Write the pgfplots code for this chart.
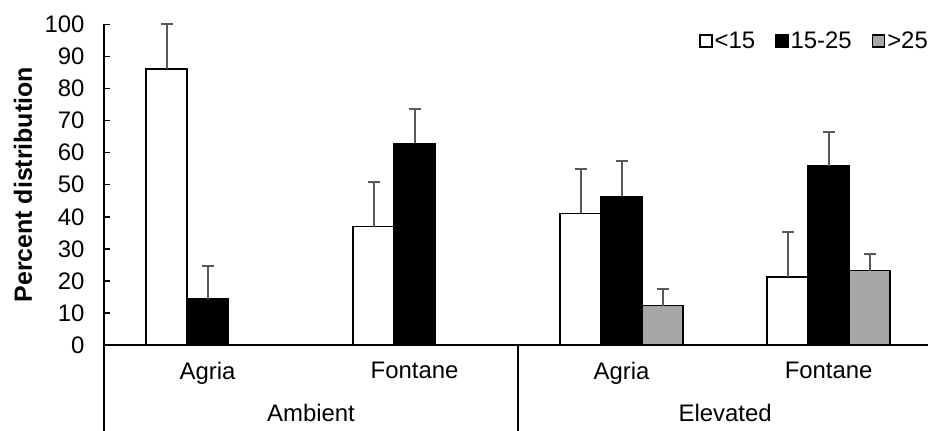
\documentclass[border=0pt]{standalone}
\usepackage{pgfplots}
\pgfplotsset{compat=1.18}
\usepackage{fontspec}
\setmainfont{Liberation Sans}
\definecolor{errgray}{HTML}{595959}
\definecolor{bargray}{HTML}{A6A6A6}
\begin{document}
\begin{tikzpicture}
\begin{axis}[
  scale only axis,
  clip=false,
  width=824bp, height=320.5bp,
  xmin=-0.5, xmax=3.48,
  ymin=0, ymax=100,
  ytick={0,10,...,100},
  xtick={0,1,2,3},
  xticklabels={Agria,Fontane,Agria,Fontane},
  axis x line*=bottom, axis y line*=left,
  axis line style={black, line width=1.5bp, -},
  tick style={black, line width=1.5bp},
  tick align=inside,
  major tick length=6bp,
  x tick style={draw=none},
  extra x ticks={-0.5,1.5},
  extra x tick labels={},
  extra x tick style={tick align=outside, major tick length=86bp, x tick style={draw=black, line width=1.5bp}},
  /pgf/number format/assume math mode=true,
  ticklabel style={font=\fontsize{24}{26}\selectfont},
  yticklabel style={xshift=-16bp},
  xticklabel style={yshift=-8bp},
  ylabel={\bfseries Percent distribution},
  every axis y label/.style={at={(axis description cs:0,0.5)}, rotate=90, anchor=center, yshift=81bp, font=\fontsize{25}{27}\selectfont},
  ybar=0pt,
  bar width=0.198,
  legend style={draw=none, fill=none, at={(1,1)}, anchor=north east, font=\fontsize{24}{26}\selectfont, legend columns=3, /tikz/every even column/.append style={column sep=18bp}, xshift=5bp, yshift=-3bp},
  legend image code/.code={\draw[#1, line width=1.5bp] (0bp,-6bp) rectangle (12bp,6bp);},
  error bars/y dir=plus,
  error bars/y explicit,
  error bars/error bar style={errgray, line width=2bp},
  error bars/error mark options={errgray, line width=2bp, rotate=90, mark size=6bp},
]
\addplot[draw=black, fill=white, line width=1.5bp, bar shift=-0.198] coordinates {
 (0,86.1) +- (0,13.9)
 (1,36.9) +- (0,14.0)
 (2,41.1) +- (0,13.7)
 (3,21.2) +- (0,14.0)
};
\addlegendentry{<15}
\addplot[draw=black, fill=black, line width=1.5bp, bar shift=0] coordinates {
 (0,14.3) +- (0,10.4)
 (1,62.9) +- (0,10.7)
 (2,46.4) +- (0,10.9)
 (3,55.9) +- (0,10.6)
};
\addlegendentry{15-25}
\addplot[draw=black, fill=bargray, line width=1.5bp, bar shift=0.198] coordinates {
 (2,12.3) +- (0,5.3)
 (3,23.2) +- (0,5.2)
};
\addlegendentry{>25}
\node[font=\fontsize{24}{26}\selectfont, anchor=center] at ([yshift=-68bp]axis cs:0.5,0) {Ambient};
\node[font=\fontsize{24}{26}\selectfont, anchor=center] at ([yshift=-68bp]axis cs:2.5,0) {Elevated};
\end{axis}
\pgfresetboundingbox
\path[use as bounding box] ([xshift=-104bp,yshift=-86bp]current axis.south west) rectangle ([xshift=824bp,yshift=345bp]current axis.south west);
\end{tikzpicture}
\end{document}
